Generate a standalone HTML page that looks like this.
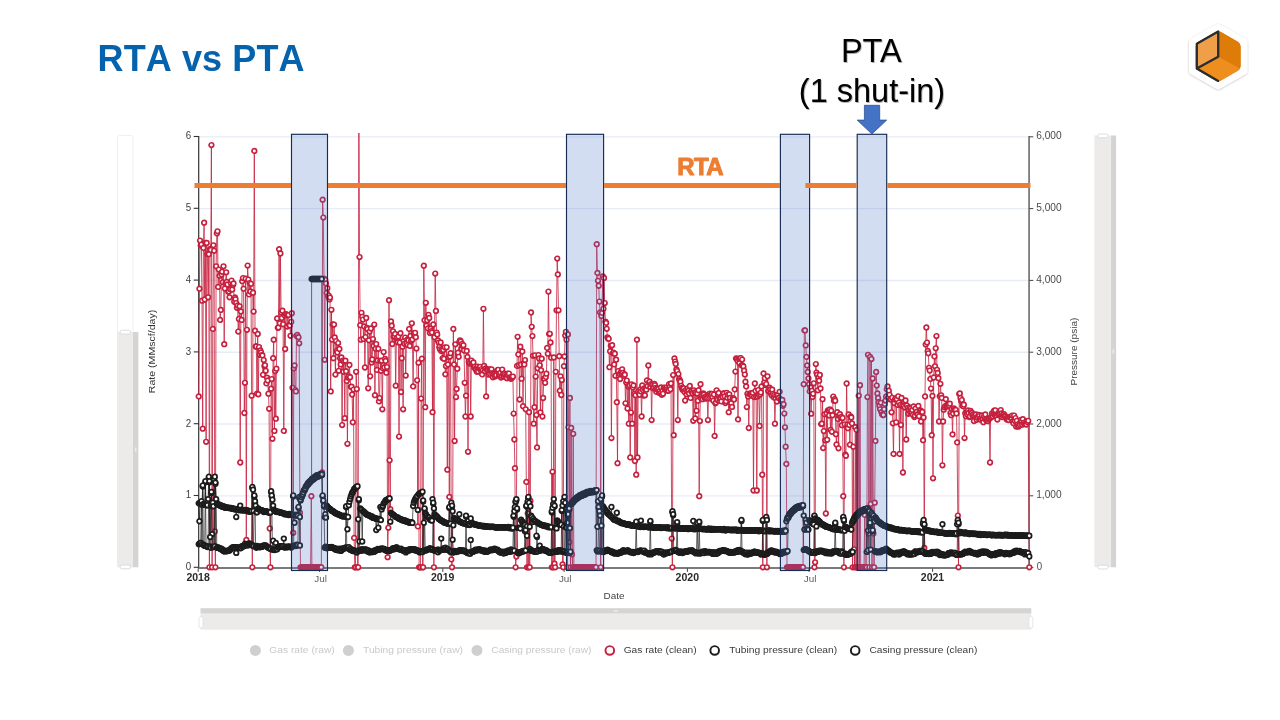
<!DOCTYPE html>
<html lang="en"><head><meta charset="utf-8"><title>RTA vs PTA</title>
<style>
html,body{margin:0;padding:0;background:#fff;}
body{width:1280px;height:720px;overflow:hidden;position:relative;font-family:"Liberation Sans", sans-serif;}
svg{position:absolute;left:0;top:0;display:block;}
text{font-family:"Liberation Sans", sans-serif;}
</style></head><body>
<svg width="1280" height="720" viewBox="0 0 1280 720">
<defs>
<marker id="mr" markerUnits="userSpaceOnUse" markerWidth="10" markerHeight="10" refX="5" refY="5" viewBox="0 0 10 10"><circle cx="5" cy="5" r="2.32" fill="#fff" stroke="#c5203e" stroke-width="1.65"/></marker>
<marker id="mk" markerUnits="userSpaceOnUse" markerWidth="10" markerHeight="10" refX="5" refY="5" viewBox="0 0 10 10"><circle cx="5" cy="5" r="2.3" fill="#fff" stroke="#1c1c1c" stroke-width="1.75"/></marker>
<filter id="tsh" x="-10%" y="-10%" width="130%" height="140%"><feDropShadow dx="0.8" dy="1.0" stdDeviation="0.75" flood-color="#000" flood-opacity="0.33"/></filter>
<filter id="lsh" x="-20%" y="-20%" width="140%" height="140%"><feDropShadow dx="0" dy="0.6" stdDeviation="1.1" flood-color="#000" flood-opacity="0.28"/></filter>
<clipPath id="plot"><rect x="190" y="133" width="845" height="440"/></clipPath>
</defs>
<rect x="0" y="0" width="1280" height="720" fill="#fff"/>
<g opacity="0.9999">
<text x="97.6" y="70.8" font-size="36" font-weight="700" fill="#0563ae" style="font-kerning:none" letter-spacing="0.1">RTA vs PTA</text>
<polygon points="1218.2,27.1 1244.2,41.8 1244.2,71.2 1218.2,85.9 1192.2,71.2 1192.2,41.8" fill="#fff" stroke="#fff" stroke-width="6.4" stroke-linejoin="round" filter="url(#lsh)"/>
<clipPath id="cube"><path d="M1215.43,32.00 Q1218.20,30.40 1220.97,32.00 L1237.83,41.70 Q1240.60,43.30 1240.60,46.50 L1240.60,65.90 Q1240.60,69.10 1237.83,70.70 L1220.97,80.40 Q1218.20,82.00 1215.43,80.40 L1198.57,70.70 Q1195.80,69.10 1195.80,65.90 L1195.80,46.50 Q1195.80,43.30 1198.57,41.70 Z"/></clipPath>
<g clip-path="url(#cube)">
<rect x="1190" y="25" width="56" height="62" fill="#e6851a"/>
<polygon points="1218.2,30.4 1243.6,40.3 1243.6,72.1 1240.6,69.1 1218.2,56.8" fill="#de7c0a"/>
<polygon points="1218.2,56.8 1240.6,69.1 1243.6,72.1 1218.2,85.0 1192.8,72.1 1195.8,69.1" fill="#ee8e1f"/>
<polygon points="1218.2,30.4 1218.2,56.8 1195.8,69.1 1192.8,69.1 1192.8,40.3 1218.2,27.4" fill="#ee9f48"/>
</g>
<path d="M1218.2,80.9 L1196.8,68.6 L1196.8,43.8 L1218.2,31.5 L1218.2,56.8 L1196.8,68.6" fill="none" stroke="#262c33" stroke-width="2.3" stroke-linejoin="round" stroke-linecap="round"/>
<rect x="117.5" y="135.5" width="15.5" height="431" rx="2.5" fill="#fff" stroke="#efefef" stroke-width="1"/>
<rect x="133" y="332" width="5.4" height="235.3" fill="#d4d4d4"/>
<rect x="117.2" y="332" width="15.8" height="235.3" fill="#ecebea"/>
<rect x="120" y="330.2" width="10.5" height="3.8" rx="1.9" fill="#fff" stroke="#d6d6d6" stroke-width="0.8"/>
<rect x="120" y="565.0" width="10.5" height="3.8" rx="1.9" fill="#fff" stroke="#d2d2d2" stroke-width="0.8"/>
<rect x="135" y="447.5" width="1.4" height="4" fill="#eeeeee"/>
<rect x="1110.7" y="135.5" width="5.4" height="431.8" fill="#d4d4d4"/>
<rect x="1094.3" y="135.5" width="16.4" height="431.5" fill="#ecebea"/>
<rect x="1097.7" y="134.0" width="10.5" height="3.8" rx="1.9" fill="#fff" stroke="#d6d6d6" stroke-width="0.8"/>
<rect x="1097.7" y="565.2" width="10.5" height="3.8" rx="1.9" fill="#fff" stroke="#d6d6d6" stroke-width="0.8"/>
<rect x="1112.6" y="349.5" width="1.4" height="4" fill="#eeeeee"/>
<rect x="200.5" y="608.2" width="830.8" height="5.5" fill="#d4d4d4"/>
<rect x="200.5" y="613.7" width="830.8" height="16" fill="#ecebea"/>
<rect x="199" y="616.5" width="4" height="11.5" rx="2" fill="#fff" stroke="#dcdcdc" stroke-width="0.7"/>
<rect x="1028.9" y="616.5" width="4" height="11.5" rx="2" fill="#fff" stroke="#dcdcdc" stroke-width="0.7"/>
<rect x="613.5" y="610.3" width="4.5" height="1.4" fill="#eeeeee"/>
<line x1="198.7" y1="495.85" x2="1029.3" y2="495.85" stroke="#e8ecf7" stroke-width="1.4"/>
<line x1="198.7" y1="424.05" x2="1029.3" y2="424.05" stroke="#e8ecf7" stroke-width="1.4"/>
<line x1="198.7" y1="352.25" x2="1029.3" y2="352.25" stroke="#e8ecf7" stroke-width="1.4"/>
<line x1="198.7" y1="280.45" x2="1029.3" y2="280.45" stroke="#e8ecf7" stroke-width="1.4"/>
<line x1="198.7" y1="208.65" x2="1029.3" y2="208.65" stroke="#e8ecf7" stroke-width="1.4"/>
<line x1="198.7" y1="136.85" x2="1029.3" y2="136.85" stroke="#e8ecf7" stroke-width="1.4"/>
<line x1="198.7" y1="136.0" x2="198.7" y2="567.8" stroke="#333" stroke-width="1.2"/>
<line x1="1029.1" y1="136.0" x2="1029.1" y2="568.8" stroke="#7b7b7b" stroke-width="1.8"/>
<line x1="198.2" y1="568.0" x2="1030.0" y2="568.0" stroke="#7b7b7b" stroke-width="1.8"/>
<line x1="193.7" y1="567.30" x2="198.7" y2="567.30" stroke="#333" stroke-width="1.1"/>
<line x1="1029.3" y1="567.60" x2="1033.3" y2="567.60" stroke="#444" stroke-width="1"/>
<text x="185.7" y="570.2" font-size="10.5" fill="#3c3c3c" textLength="5.4" lengthAdjust="spacingAndGlyphs">0</text>
<text x="1036.7" y="570.2" font-size="10.5" fill="#4a4a4a" textLength="5.4" lengthAdjust="spacingAndGlyphs">0</text>
<line x1="193.7" y1="495.50" x2="198.7" y2="495.50" stroke="#333" stroke-width="1.1"/>
<line x1="1029.3" y1="495.80" x2="1033.3" y2="495.80" stroke="#444" stroke-width="1"/>
<text x="185.7" y="498.4" font-size="10.5" fill="#3c3c3c" textLength="5.4" lengthAdjust="spacingAndGlyphs">1</text>
<text x="1036.2" y="498.4" font-size="10.5" fill="#4a4a4a" textLength="25.4" lengthAdjust="spacingAndGlyphs">1,000</text>
<line x1="193.7" y1="423.70" x2="198.7" y2="423.70" stroke="#333" stroke-width="1.1"/>
<line x1="1029.3" y1="424.00" x2="1033.3" y2="424.00" stroke="#444" stroke-width="1"/>
<text x="185.7" y="426.6" font-size="10.5" fill="#3c3c3c" textLength="5.4" lengthAdjust="spacingAndGlyphs">2</text>
<text x="1036.2" y="426.6" font-size="10.5" fill="#4a4a4a" textLength="25.4" lengthAdjust="spacingAndGlyphs">2,000</text>
<line x1="193.7" y1="351.90" x2="198.7" y2="351.90" stroke="#333" stroke-width="1.1"/>
<line x1="1029.3" y1="352.20" x2="1033.3" y2="352.20" stroke="#444" stroke-width="1"/>
<text x="185.7" y="354.8" font-size="10.5" fill="#3c3c3c" textLength="5.4" lengthAdjust="spacingAndGlyphs">3</text>
<text x="1036.2" y="354.8" font-size="10.5" fill="#4a4a4a" textLength="25.4" lengthAdjust="spacingAndGlyphs">3,000</text>
<line x1="193.7" y1="280.10" x2="198.7" y2="280.10" stroke="#333" stroke-width="1.1"/>
<line x1="1029.3" y1="280.40" x2="1033.3" y2="280.40" stroke="#444" stroke-width="1"/>
<text x="185.7" y="283.0" font-size="10.5" fill="#3c3c3c" textLength="5.4" lengthAdjust="spacingAndGlyphs">4</text>
<text x="1036.2" y="283.0" font-size="10.5" fill="#4a4a4a" textLength="25.4" lengthAdjust="spacingAndGlyphs">4,000</text>
<line x1="193.7" y1="208.30" x2="198.7" y2="208.30" stroke="#333" stroke-width="1.1"/>
<line x1="1029.3" y1="208.60" x2="1033.3" y2="208.60" stroke="#444" stroke-width="1"/>
<text x="185.7" y="211.2" font-size="10.5" fill="#3c3c3c" textLength="5.4" lengthAdjust="spacingAndGlyphs">5</text>
<text x="1036.2" y="211.2" font-size="10.5" fill="#4a4a4a" textLength="25.4" lengthAdjust="spacingAndGlyphs">5,000</text>
<line x1="193.7" y1="136.50" x2="198.7" y2="136.50" stroke="#333" stroke-width="1.1"/>
<line x1="1029.3" y1="136.80" x2="1033.3" y2="136.80" stroke="#444" stroke-width="1"/>
<text x="185.7" y="139.4" font-size="10.5" fill="#3c3c3c" textLength="5.4" lengthAdjust="spacingAndGlyphs">6</text>
<text x="1036.2" y="139.4" font-size="10.5" fill="#4a4a4a" textLength="25.4" lengthAdjust="spacingAndGlyphs">6,000</text>
<line x1="198.2" y1="568.3" x2="198.2" y2="571.9" stroke="#444" stroke-width="1"/>
<text x="186.4" y="581.4" font-size="10.2" font-weight="700" fill="#2a2a2a" textLength="23.4" lengthAdjust="spacingAndGlyphs">2018</text>
<line x1="319.5" y1="568.3" x2="319.5" y2="571.9" stroke="#444" stroke-width="1"/>
<text x="320.6" y="581.5" font-size="9.9" fill="#5c5e64" text-anchor="middle">Jul</text>
<line x1="442.8" y1="568.3" x2="442.8" y2="571.9" stroke="#444" stroke-width="1"/>
<text x="431.0" y="581.4" font-size="10.2" font-weight="700" fill="#2a2a2a" textLength="23.4" lengthAdjust="spacingAndGlyphs">2019</text>
<line x1="564.1" y1="568.3" x2="564.1" y2="571.9" stroke="#444" stroke-width="1"/>
<text x="565.2" y="581.5" font-size="9.9" fill="#5c5e64" text-anchor="middle">Jul</text>
<line x1="687.4" y1="568.3" x2="687.4" y2="571.9" stroke="#444" stroke-width="1"/>
<text x="675.6" y="581.4" font-size="10.2" font-weight="700" fill="#2a2a2a" textLength="23.4" lengthAdjust="spacingAndGlyphs">2020</text>
<line x1="809.0" y1="568.3" x2="809.0" y2="571.9" stroke="#444" stroke-width="1"/>
<text x="810.1" y="581.5" font-size="9.9" fill="#5c5e64" text-anchor="middle">Jul</text>
<line x1="932.6" y1="568.3" x2="932.6" y2="571.9" stroke="#444" stroke-width="1"/>
<text x="920.8" y="581.4" font-size="10.2" font-weight="700" fill="#2a2a2a" textLength="23.4" lengthAdjust="spacingAndGlyphs">2021</text>
<text x="603.6" y="599.4" font-size="9.9" fill="#444" textLength="21" lengthAdjust="spacingAndGlyphs">Date</text>
<text transform="translate(155.3,393.2) rotate(-90)" font-size="9.9" fill="#333" textLength="83.4" lengthAdjust="spacingAndGlyphs">Rate (MMscf/day)</text>
<text transform="translate(1077.3,385.5) rotate(-90)" font-size="9.9" fill="#444" textLength="67.8" lengthAdjust="spacingAndGlyphs">Pressure (psia)</text>
<g clip-path="url(#plot)">
<polyline points="198.7,396.4 199.4,288.7 200.0,240.6 200.7,245.6 201.4,244.6 202.0,300.7 202.7,428.7 203.4,247.9 204.1,222.7 204.7,299.5 205.4,242.9 206.1,441.8 206.7,243.0 207.4,254.1 208.1,297.3 208.8,254.2 209.4,567.3 210.1,248.9 210.8,249.9 211.4,145.1 212.1,567.3 212.8,328.9 213.4,245.3 214.1,250.8 214.8,531.4 215.4,567.3 216.1,266.3 216.8,233.4 217.5,231.3 218.1,286.9 218.8,269.6 219.5,275.8 220.1,319.9 220.8,309.9 221.5,274.4 222.1,271.8 222.8,282.3 223.5,266.3 224.2,344.2 224.8,288.5 225.5,282.9 226.2,272.3 226.8,282.0 227.5,284.4 228.2,291.7 228.8,291.5 229.5,297.3 230.2,289.2 230.9,283.1 231.5,280.6 232.2,289.5 232.9,285.0 233.5,283.5 234.2,301.7 234.9,297.5 235.5,299.2 236.2,303.1 236.9,307.8 237.6,305.5 238.2,331.6 238.9,319.0 239.6,306.3 240.2,462.5 240.9,311.4 241.6,319.9 242.2,281.2 242.9,278.1 243.6,288.7 244.3,413.0 244.9,382.8 245.6,278.7 246.3,540.0 246.9,329.8 247.6,265.6 248.3,279.6 248.9,294.4 249.6,283.1 250.3,291.5 251.0,283.8 251.6,395.7 252.3,567.3 253.0,292.7 253.6,311.6 254.3,150.9 255.0,330.7 255.6,346.5 256.3,346.5 257.0,393.6 257.7,334.0 258.3,394.3 259.0,347.1 259.7,354.8 260.3,350.5 261.0,352.4 261.7,355.1 262.4,355.4 263.0,374.8 263.7,360.1 264.4,366.0 265.0,365.3 265.7,370.8 266.4,383.4 267.0,377.7 267.7,380.5 268.4,393.7 269.1,408.8 269.7,528.5 270.4,567.3 271.1,388.7 271.7,379.1 272.4,438.8 273.1,358.2 273.7,339.7 274.4,430.9 275.1,371.1 275.8,418.7 276.4,368.7 277.1,318.5 277.8,327.8 278.4,327.6 279.1,249.2 279.8,323.3 280.4,253.5 281.1,312.4 281.8,318.1 282.4,310.7 283.1,324.3 283.8,430.9 284.5,315.3 285.1,349.0 285.8,314.1 286.5,314.6 287.1,326.5 287.8,315.3 288.5,315.1 289.1,325.1 289.8,325.4 290.5,335.8 291.2,321.8 291.8,313.2 292.5,387.8 293.2,532.8 293.8,368.3 294.5,365.5 295.2,390.1 295.9,391.4 296.5,335.8 297.2,335.0 297.9,337.2 298.5,337.3 299.2,343.3 299.9,512.7 300.5,567.3 301.2,567.3 301.9,567.3 302.6,567.3 303.2,567.3 303.9,567.3 304.6,567.3 305.2,567.3 305.9,567.3 306.6,567.3 307.2,567.3 307.9,567.3 308.6,567.3 309.2,567.3 309.9,567.3 310.6,567.3 311.3,496.2 311.9,567.3 312.6,567.3 313.3,567.3 313.9,567.3 314.6,567.3 315.3,567.3 315.9,567.3 316.6,567.3 317.3,567.3 318.0,567.3 318.6,567.3 319.3,567.3 320.0,567.3 320.6,567.3 321.3,567.3 322.0,472.5 322.6,199.7 323.3,217.6 324.0,278.7 324.7,359.8 325.3,280.1 326.0,283.4 326.7,293.0 327.3,288.2 328.0,296.4 328.7,295.7 329.4,299.4 330.0,297.6 330.7,391.4 331.4,309.8 332.0,339.6 332.7,324.5 333.4,358.2 334.0,324.6 334.7,337.5 335.4,374.6 336.0,341.1 336.7,351.0 337.4,352.6 338.1,343.1 338.7,370.8 339.4,349.0 340.1,358.3 340.7,364.4 341.4,357.5 342.1,425.1 342.8,360.7 343.4,371.8 344.1,361.4 344.8,418.2 345.4,360.7 346.1,371.2 346.8,380.9 347.4,443.8 348.1,377.7 348.8,376.3 349.4,365.0 350.1,377.2 350.8,386.8 351.5,386.7 352.1,394.5 352.8,422.3 353.5,389.6 354.1,537.9 354.8,567.3 355.5,567.3 356.1,371.8 356.8,389.1 357.5,567.3 358.2,567.3 358.8,50.3 359.5,257.1 360.2,325.2 360.8,339.7 361.5,312.8 362.2,316.8 362.9,319.6 363.5,338.9 364.2,326.4 364.9,367.5 365.5,337.1 366.2,317.9 366.9,327.8 367.5,329.1 368.2,388.3 368.9,340.3 369.6,331.6 370.2,376.3 370.9,328.5 371.6,362.5 372.2,359.5 372.9,339.1 373.6,345.9 374.2,324.6 374.9,395.2 375.6,348.7 376.2,344.1 376.9,369.9 377.6,360.4 378.3,348.8 378.9,401.4 379.6,398.1 380.3,360.8 380.9,370.8 381.6,360.7 382.3,409.3 382.9,368.4 383.6,352.1 384.3,367.4 385.0,358.9 385.6,360.9 386.3,372.7 387.0,367.1 387.6,557.2 388.3,527.8 389.0,300.2 389.6,460.3 390.3,509.1 391.0,321.4 391.7,325.7 392.3,344.0 393.0,331.3 393.7,336.7 394.3,336.2 395.0,333.9 395.7,385.7 396.4,339.6 397.0,337.6 397.7,342.3 398.4,336.6 399.0,436.6 399.7,342.6 400.4,333.2 401.0,392.0 401.7,358.2 402.4,346.7 403.1,409.3 403.7,340.9 404.4,343.8 405.1,337.6 405.7,375.6 406.4,343.2 407.1,339.7 407.7,345.1 408.4,340.2 409.1,328.9 409.8,345.9 410.4,336.0 411.1,340.7 411.8,323.3 412.4,339.6 413.1,386.4 413.8,333.2 414.4,336.0 415.1,332.8 415.8,337.2 416.4,348.6 417.1,380.3 417.8,526.4 418.5,362.7 419.1,567.3 419.8,567.3 420.5,567.3 421.1,398.6 421.8,358.7 422.5,567.3 423.1,567.3 423.8,265.7 424.5,320.2 425.2,407.2 425.8,302.8 426.5,325.8 427.2,320.2 427.8,328.4 428.5,314.8 429.2,318.0 429.9,333.1 430.5,328.8 431.2,331.1 431.9,332.5 432.5,412.2 433.2,324.5 433.9,567.3 434.5,337.2 435.2,273.6 435.9,311.0 436.6,332.6 437.2,334.6 437.9,340.5 438.6,342.6 439.2,347.1 439.9,349.3 440.6,342.5 441.2,351.0 441.9,349.8 442.6,358.1 443.2,350.0 443.9,358.8 444.6,347.3 445.3,374.3 445.9,366.0 446.6,347.3 447.3,469.7 447.9,364.4 448.6,357.2 449.3,496.9 450.0,356.5 450.6,353.2 451.3,559.4 452.0,567.3 452.6,552.9 453.3,328.9 454.0,364.4 454.6,441.0 455.3,344.3 456.0,397.1 456.6,388.9 457.3,368.7 458.0,352.7 458.7,356.8 459.3,341.9 460.0,340.3 460.7,341.5 461.3,348.6 462.0,343.9 462.7,346.2 463.4,345.3 464.0,350.6 464.7,382.8 465.4,416.5 466.0,395.7 466.7,350.9 467.4,356.9 468.0,451.8 468.7,361.7 469.4,363.6 470.1,362.4 470.7,416.5 471.4,360.6 472.1,363.8 472.7,362.9 473.4,362.5 474.1,367.5 474.7,366.8 475.4,368.8 476.1,369.7 476.8,371.7 477.4,366.6 478.1,371.5 478.8,368.1 479.4,367.9 480.1,366.8 480.8,370.6 481.4,369.1 482.1,374.4 482.8,370.3 483.4,308.8 484.1,365.9 484.8,371.0 485.5,368.5 486.1,396.4 486.8,369.2 487.5,369.8 488.1,369.9 488.8,374.7 489.5,369.3 490.2,373.9 490.8,369.7 491.5,369.3 492.2,373.5 492.8,377.3 493.5,374.0 494.2,374.2 494.8,376.6 495.5,375.1 496.2,375.2 496.9,371.4 497.5,370.1 498.2,369.8 498.9,375.9 499.5,374.9 500.2,372.9 500.9,377.6 501.5,375.9 502.2,369.6 502.9,374.2 503.6,376.5 504.2,373.7 504.9,375.1 505.6,376.7 506.2,377.5 506.9,378.3 507.6,373.7 508.2,375.3 508.9,373.6 509.6,377.9 510.2,377.3 510.9,378.8 511.6,377.9 512.3,377.2 512.9,376.6 513.6,413.6 514.3,439.5 514.9,468.2 515.6,567.3 516.3,556.5 517.0,365.9 517.6,336.8 518.3,354.4 519.0,365.2 519.6,399.5 520.3,346.7 521.0,364.4 521.6,378.7 522.3,351.4 523.0,406.2 523.7,363.5 524.3,364.4 525.0,360.1 525.7,409.3 526.3,481.9 527.0,567.3 527.7,513.4 528.3,567.3 529.0,412.2 529.7,567.3 530.4,501.0 531.0,312.4 531.7,326.8 532.4,336.1 533.0,355.8 533.7,423.7 534.4,407.2 535.0,355.3 535.7,376.6 536.4,415.1 537.0,447.4 537.7,368.3 538.4,355.1 539.1,358.5 539.7,365.3 540.4,412.5 541.1,370.3 541.7,358.7 542.4,416.6 543.1,398.0 543.8,378.8 544.4,378.8 545.1,382.8 545.8,376.9 546.4,373.7 547.1,347.9 547.8,353.7 548.4,291.6 549.1,333.9 549.8,333.8 550.5,342.5 551.1,357.7 551.8,567.3 552.5,471.8 553.1,567.3 553.8,357.4 554.5,563.7 555.1,567.3 555.8,371.8 556.5,310.3 557.2,258.6 557.8,274.4 558.5,310.3 559.2,356.2 559.8,390.7 560.5,376.3 561.2,395.0 561.8,380.1 562.5,564.4 563.2,567.3 563.9,366.2 564.5,356.5 565.2,335.5 565.9,331.8 566.5,339.7 567.2,567.3 567.9,334.5 568.5,427.3 569.2,542.2 569.9,397.9 570.5,567.3 571.2,428.0 571.9,554.4 572.6,567.3 573.2,433.8 573.9,567.3 574.6,567.3 575.2,567.3 575.9,567.3 576.6,567.3 577.2,567.3 577.9,567.3 578.6,567.3 579.3,567.3 579.9,567.3 580.6,567.3 581.3,567.3 581.9,567.3 582.6,567.3 583.3,567.3 584.0,567.3 584.6,567.3 585.3,567.3 586.0,567.3 586.6,567.3 587.3,567.3 588.0,567.3 588.6,567.3 589.3,567.3 590.0,567.3 590.7,567.3 591.3,567.3 592.0,567.3 592.7,567.3 593.3,567.3 594.0,567.3 594.7,567.3 595.3,567.3 596.0,567.3 596.7,244.2 597.4,272.9 598.0,280.8 598.7,285.8 599.4,301.6 600.0,312.4 600.7,567.3 601.4,316.0 602.0,312.9 602.7,276.5 603.4,308.7 604.0,277.9 604.7,303.1 605.4,321.7 606.1,322.9 606.7,328.8 607.4,337.3 608.1,338.7 608.7,338.8 609.4,367.2 610.1,351.2 610.8,345.8 611.4,438.1 612.1,345.2 612.8,353.1 613.4,352.7 614.1,364.4 614.8,353.7 615.4,375.8 616.1,359.7 616.8,402.2 617.5,463.2 618.1,371.1 618.8,376.1 619.5,374.1 620.1,379.1 620.8,372.2 621.5,373.5 622.1,369.3 622.8,372.8 623.5,375.9 624.2,374.1 624.8,374.7 625.5,403.3 626.2,382.6 626.8,380.6 627.5,408.6 628.2,386.5 628.8,423.7 629.5,385.2 630.2,457.4 630.9,412.6 631.5,384.3 632.2,423.7 632.9,387.5 633.5,385.4 634.2,393.9 634.9,461.0 635.5,395.2 636.2,474.7 636.9,339.7 637.5,457.4 638.2,391.5 638.9,393.6 639.6,394.8 640.2,389.5 640.9,391.4 641.6,416.5 642.2,385.5 642.9,390.1 643.6,395.6 644.2,388.3 644.9,395.3 645.6,389.0 646.3,389.7 646.9,380.5 647.6,386.1 648.3,365.5 648.9,382.6 649.6,381.7 650.3,387.0 651.0,384.1 651.6,420.1 652.3,384.4 653.0,388.4 653.6,387.4 654.3,384.0 655.0,385.3 655.6,387.9 656.3,391.9 657.0,388.4 657.7,390.1 658.3,388.9 659.0,392.9 659.7,391.0 660.3,393.1 661.0,387.5 661.7,394.8 662.3,391.2 663.0,393.8 663.7,387.8 664.4,387.7 665.0,389.3 665.7,388.9 666.4,387.6 667.0,389.3 667.7,390.8 668.4,390.8 669.0,384.2 669.7,387.0 670.4,389.2 671.0,383.5 671.7,538.6 672.4,567.3 673.1,375.1 673.7,435.2 674.4,358.4 675.1,361.6 675.7,363.9 676.4,369.5 677.1,371.1 677.8,420.1 678.4,374.1 679.1,379.0 679.8,380.4 680.4,381.7 681.1,385.8 681.8,387.9 682.4,389.7 683.1,388.3 683.8,388.3 684.5,392.0 685.1,400.5 685.8,390.0 686.5,394.2 687.1,391.2 687.8,388.4 688.5,390.7 689.1,393.4 689.8,385.9 690.5,397.9 691.2,391.2 691.8,391.6 692.5,393.3 693.2,420.8 693.8,390.3 694.5,392.4 695.2,418.4 695.8,393.0 696.5,410.8 697.2,393.6 697.9,400.7 698.5,390.2 699.2,496.2 699.9,421.1 700.5,384.2 701.2,398.6 701.9,394.7 702.5,399.2 703.2,393.5 703.9,394.5 704.5,398.0 705.2,396.7 705.9,398.6 706.6,397.5 707.2,398.3 707.9,420.1 708.6,394.3 709.2,398.4 709.9,393.6 710.6,395.0 711.2,398.6 711.9,393.9 712.6,397.2 713.3,400.7 713.9,394.6 714.6,435.9 715.3,403.3 715.9,402.5 716.6,390.3 717.3,400.1 718.0,394.3 718.6,392.9 719.3,400.9 720.0,398.5 720.6,397.9 721.3,401.4 722.0,396.1 722.6,396.9 723.3,393.5 724.0,393.5 724.7,396.6 725.3,403.0 726.0,401.2 726.7,392.8 727.3,397.8 728.0,394.7 728.7,412.2 729.3,394.3 730.0,397.9 730.7,401.7 731.3,403.2 732.0,406.9 732.7,398.5 733.4,398.3 734.0,399.4 734.7,389.4 735.4,371.6 736.0,358.4 736.7,358.9 737.4,360.6 738.0,419.4 738.7,358.7 739.4,363.2 740.1,358.4 740.7,358.1 741.4,365.2 742.1,359.6 742.7,365.6 743.4,366.6 744.1,370.7 744.8,374.6 745.4,381.7 746.1,386.4 746.8,407.1 747.4,393.8 748.1,396.6 748.8,428.0 749.4,394.2 750.1,393.4 750.8,393.7 751.5,393.5 752.1,395.7 752.8,392.9 753.5,490.5 754.1,397.0 754.8,383.5 755.5,390.9 756.1,396.7 756.8,490.5 757.5,396.4 758.2,390.1 758.8,395.0 759.5,425.9 760.2,394.2 760.8,392.4 761.5,386.5 762.2,474.7 762.8,567.3 763.5,373.4 764.2,382.5 764.8,378.2 765.5,385.0 766.2,384.1 766.9,567.3 767.5,376.3 768.2,391.1 768.9,391.0 769.5,387.7 770.2,389.5 770.9,393.2 771.5,395.2 772.2,389.7 772.9,393.8 773.6,397.4 774.2,395.0 774.9,423.7 775.6,398.2 776.2,395.4 776.9,401.6 777.6,395.6 778.2,397.9 778.9,398.0 779.6,391.8 780.3,399.4 780.9,400.0 781.6,401.3 782.3,400.0 782.9,405.8 783.6,404.3 784.3,413.6 785.0,427.3 785.6,446.7 786.3,463.9 787.0,567.3 787.6,567.3 788.3,567.3 789.0,567.3 789.6,567.3 790.3,567.3 791.0,567.3 791.7,567.3 792.3,567.3 793.0,567.3 793.7,567.3 794.3,567.3 795.0,567.3 795.7,567.3 796.3,567.3 797.0,567.3 797.7,567.3 798.4,567.3 799.0,567.3 799.7,567.3 800.4,567.3 801.0,567.3 801.7,567.3 802.4,567.3 803.0,567.3 803.7,384.2 804.4,330.4 805.0,330.4 805.7,345.4 806.4,356.9 807.1,365.5 807.7,372.0 808.4,378.5 809.1,384.2 809.7,391.4 810.4,387.5 811.1,413.7 811.8,390.8 812.4,397.0 813.1,393.8 813.8,383.3 814.4,567.3 815.1,562.3 815.8,364.1 816.4,372.6 817.1,374.7 817.8,390.3 818.5,377.5 819.1,380.7 819.8,375.0 820.5,388.4 821.1,424.1 821.8,423.7 822.5,399.2 823.1,448.1 823.8,431.1 824.5,414.3 825.2,440.3 825.8,513.5 826.5,413.3 827.2,439.8 827.8,410.5 828.5,410.3 829.2,415.5 829.8,409.4 830.5,429.9 831.2,410.8 831.9,431.8 832.5,415.3 833.2,396.6 833.9,400.7 834.5,399.2 835.2,400.8 835.9,434.2 836.5,444.5 837.2,412.2 837.9,418.9 838.5,448.3 839.2,415.6 839.9,414.2 840.6,417.7 841.2,416.9 841.9,425.2 842.6,417.9 843.2,496.2 843.9,567.3 844.6,424.3 845.2,454.6 845.9,455.8 846.6,383.5 847.3,424.7 847.9,428.2 848.6,414.4 849.3,425.1 849.9,444.7 850.6,416.5 851.3,417.5 852.0,423.4 852.6,567.3 853.3,446.7 854.0,549.3 854.6,567.3 855.3,427.2 856.0,567.3 856.6,429.9 857.3,567.3 858.0,567.3 858.7,395.7 859.3,567.3 860.0,385.2 860.7,567.3 861.3,567.3 862.0,567.3 862.7,567.3 863.3,567.3 864.0,567.3 864.7,514.9 865.4,567.3 866.0,567.3 866.7,567.3 867.4,397.1 868.0,354.8 868.7,533.6 869.4,567.3 870.0,357.0 870.7,504.1 871.4,359.1 872.0,567.3 872.7,378.5 873.4,533.6 874.1,567.3 874.7,502.7 875.4,440.9 876.1,372.0 876.7,385.6 877.4,393.5 878.1,397.9 878.8,402.2 879.4,405.8 880.1,409.3 880.8,402.8 881.4,412.2 882.1,414.4 882.8,415.1 883.4,415.1 884.1,409.3 884.8,403.9 885.5,400.5 886.1,396.5 886.8,389.2 887.5,386.5 888.1,397.2 888.8,390.8 889.5,394.8 890.1,399.4 890.8,399.2 891.5,412.3 892.2,397.8 892.8,423.3 893.5,453.9 894.2,403.0 894.8,399.6 895.5,398.4 896.2,422.3 896.8,399.2 897.5,404.9 898.2,396.3 898.9,402.6 899.5,453.9 900.2,405.0 900.9,425.1 901.5,397.9 902.2,405.8 902.9,472.5 903.5,406.2 904.2,401.7 904.9,407.6 905.5,400.5 906.2,439.5 906.9,405.6 907.6,407.9 908.2,413.8 908.9,409.7 909.6,407.5 910.2,412.7 910.9,408.2 911.6,412.4 912.2,410.0 912.9,414.9 913.6,406.5 914.3,417.1 914.9,415.7 915.6,408.5 916.3,412.7 916.9,411.6 917.6,414.7 918.3,405.9 919.0,416.3 919.6,411.0 920.3,410.4 921.0,421.5 921.6,411.4 922.3,412.0 923.0,440.2 923.6,417.6 924.3,547.9 925.0,396.4 925.7,344.5 926.3,327.5 927.0,342.6 927.7,350.9 928.3,353.3 929.0,367.8 929.7,370.6 930.3,378.9 931.0,388.6 931.7,435.2 932.4,395.9 933.0,478.3 933.7,377.5 934.4,356.4 935.0,366.3 935.7,348.3 936.4,336.1 937.0,369.8 937.7,372.9 938.4,378.2 939.0,421.5 939.7,396.2 940.4,383.8 941.1,395.3 941.7,397.9 942.4,465.3 943.1,421.5 943.7,409.7 944.4,407.4 945.1,406.1 945.8,399.2 946.4,405.9 947.1,405.0 947.8,406.5 948.4,404.8 949.1,405.7 949.8,403.7 950.4,412.9 951.1,415.2 951.8,408.9 952.5,434.4 953.1,413.5 953.8,408.3 954.5,409.4 955.1,410.7 955.8,410.1 956.5,413.5 957.1,442.4 957.8,515.6 958.5,567.3 959.2,394.0 959.8,393.5 960.5,398.1 961.2,401.3 961.8,400.1 962.5,405.7 963.2,406.4 963.8,404.7 964.5,438.1 965.2,413.2 965.9,416.3 966.5,411.9 967.2,414.5 967.9,410.5 968.5,412.9 969.2,417.1 969.9,416.6 970.5,410.9 971.2,412.7 971.9,412.9 972.5,415.7 973.2,414.3 973.9,421.0 974.6,415.1 975.2,415.9 975.9,414.4 976.6,419.8 977.2,417.3 977.9,417.8 978.6,414.8 979.2,416.1 979.9,418.6 980.6,419.7 981.3,417.6 981.9,415.5 982.6,419.3 983.3,422.2 983.9,416.1 984.6,418.8 985.3,414.4 986.0,419.1 986.6,420.9 987.3,419.0 988.0,421.2 988.6,419.5 989.3,418.3 990.0,462.5 990.6,417.7 991.3,417.0 992.0,413.3 992.7,416.2 993.3,413.9 994.0,410.7 994.7,415.0 995.3,410.3 996.0,415.1 996.7,416.0 997.3,419.5 998.0,414.5 998.7,412.7 999.4,413.8 1000.0,413.8 1000.7,410.1 1001.4,413.4 1002.0,417.1 1002.7,415.2 1003.4,414.1 1004.0,414.3 1004.7,415.7 1005.4,416.4 1006.0,418.1 1006.7,419.5 1007.4,418.2 1008.1,418.2 1008.7,420.0 1009.4,417.1 1010.1,417.5 1010.7,416.6 1011.4,418.1 1012.1,415.6 1012.8,421.4 1013.4,423.2 1014.1,415.6 1014.8,421.0 1015.4,418.1 1016.1,426.5 1016.8,420.8 1017.4,424.6 1018.1,426.7 1018.8,426.0 1019.5,423.4 1020.1,425.0 1020.8,420.0 1021.5,421.6 1022.1,424.7 1022.8,419.2 1023.5,423.2 1024.1,422.6 1024.8,424.1 1025.5,423.8 1026.2,424.5 1026.8,421.1 1027.5,422.3 1028.2,420.8 1029.3,567.3" fill="none" stroke="#c5203e" stroke-opacity="0.8" stroke-width="1" stroke-linejoin="round" marker-start="url(#mr)" marker-mid="url(#mr)" marker-end="url(#mr)"/>
<polyline points="198.7,544.3 199.4,543.6 200.0,543.0 200.7,543.0 201.4,502.3 202.0,544.1 202.7,486.5 203.4,544.8 204.1,545.7 204.7,545.6 205.4,482.2 206.1,545.9 206.7,546.4 207.4,547.0 208.1,546.6 208.8,477.9 209.4,482.2 210.1,546.4 210.8,547.8 211.4,493.0 212.1,534.3 212.8,547.0 213.4,547.1 214.1,480.8 214.8,546.2 215.4,483.7 216.1,500.2 216.8,547.7 217.5,547.4 218.1,547.5 218.8,548.0 219.5,548.1 220.1,549.0 220.8,548.4 221.5,549.4 222.1,549.2 222.8,550.4 223.5,551.0 224.2,551.5 224.8,550.9 225.5,550.8 226.2,551.3 226.8,551.1 227.5,551.1 228.2,550.7 228.8,550.2 229.5,550.5 230.2,549.6 230.9,548.6 231.5,548.2 232.2,547.4 232.9,547.4 233.5,547.3 234.2,547.3 234.9,548.4 235.5,547.3 236.2,552.9 236.9,547.1 237.6,547.6 238.2,547.6 238.9,547.7 239.6,547.6 240.2,548.3 240.9,548.0 241.6,546.3 242.2,546.4 242.9,546.5 243.6,546.2 244.3,545.9 244.9,543.8 245.6,544.9 246.3,544.8 246.9,544.9 247.6,545.6 248.3,544.2 248.9,543.5 249.6,543.8 250.3,544.2 251.0,544.8 251.6,545.3 252.3,488.0 253.0,545.5 253.6,546.2 254.3,496.6 255.0,502.3 255.6,546.7 256.3,547.8 257.0,545.9 257.7,546.9 258.3,546.8 259.0,546.7 259.7,547.2 260.3,547.0 261.0,546.4 261.7,546.9 262.4,546.2 263.0,545.6 263.7,545.8 264.4,545.5 265.0,545.7 265.7,545.5 266.4,546.4 267.0,546.6 267.7,547.6 268.4,547.5 269.1,548.2 269.7,548.2 270.4,549.1 271.1,492.3 271.7,496.6 272.4,549.8 273.1,540.7 273.7,549.4 274.4,550.1 275.1,549.8 275.8,542.9 276.4,549.0 277.1,549.2 277.8,547.2 278.4,547.6 279.1,547.1 279.8,546.2 280.4,546.3 281.1,546.8 281.8,546.4 282.4,546.4 283.1,546.2 283.8,538.6 284.5,547.5 285.1,547.4 285.8,546.9 286.5,546.6 287.1,547.2 287.8,547.1 288.5,546.5 289.1,546.7 289.8,547.1 290.5,547.1 291.2,547.6 291.8,546.5 292.5,546.4 293.2,496.6 293.8,545.8 294.5,545.9 295.2,545.7 295.9,546.1 296.5,544.7 297.2,545.5 297.9,544.9 298.5,508.1 299.2,498.0 299.9,545.5 300.5,500.6 301.2,498.1 301.9,496.4 302.6,495.1 303.2,493.2 303.9,490.8 304.6,490.3 305.2,489.0 305.9,487.1 306.6,486.3 307.2,485.3 307.9,483.9 308.6,484.0 309.2,482.5 309.9,482.2 310.6,481.6 311.3,480.8 311.9,479.6 312.6,479.4 313.3,479.4 313.9,478.7 314.6,477.5 315.3,477.3 315.9,477.5 316.6,476.1 317.3,476.7 318.0,476.6 318.6,476.0 319.3,475.5 320.0,475.0 320.6,475.0 321.3,475.2 322.0,475.1 322.6,496.6 323.3,501.6 324.0,506.6 324.7,547.7 325.3,546.8 326.0,547.7 326.7,548.2 327.3,547.2 328.0,547.3 328.7,547.6 329.4,547.4 330.0,547.3 330.7,547.6 331.4,547.0 332.0,547.3 332.7,548.0 333.4,548.3 334.0,548.0 334.7,548.7 335.4,549.8 336.0,549.3 336.7,548.8 337.4,549.7 338.1,550.4 338.7,549.2 339.4,548.7 340.1,549.8 340.7,550.9 341.4,550.3 342.1,548.4 342.8,549.2 343.4,548.5 344.1,548.3 344.8,548.3 345.4,547.4 346.1,507.3 346.8,547.8 347.4,548.0 348.1,548.2 348.8,547.3 349.4,549.3 350.1,549.7 350.8,548.9 351.5,550.4 352.1,550.1 352.8,551.0 353.5,550.3 354.1,551.0 354.8,550.8 355.5,551.7 356.1,551.4 356.8,552.5 357.5,550.8 358.2,550.9 358.8,500.2 359.5,550.7 360.2,550.7 360.8,550.3 361.5,549.2 362.2,550.3 362.9,550.2 363.5,549.5 364.2,549.8 364.9,550.4 365.5,549.4 366.2,549.6 366.9,550.9 367.5,550.1 368.2,551.9 368.9,550.7 369.6,552.5 370.2,551.6 370.9,551.9 371.6,552.1 372.2,551.5 372.9,552.1 373.6,551.8 374.2,551.7 374.9,550.1 375.6,550.8 376.2,550.0 376.9,550.0 377.6,549.0 378.3,549.8 378.9,549.5 379.6,549.3 380.3,548.8 380.9,549.3 381.6,548.7 382.3,548.8 382.9,548.8 383.6,549.2 384.3,549.0 385.0,550.1 385.6,550.3 386.3,550.6 387.0,550.7 387.6,551.0 388.3,550.1 389.0,550.1 389.6,551.1 390.3,549.9 391.0,549.9 391.7,549.7 392.3,549.1 393.0,548.1 393.7,548.4 394.3,549.3 395.0,548.0 395.7,548.5 396.4,547.3 397.0,548.4 397.7,548.4 398.4,548.7 399.0,549.2 399.7,549.3 400.4,549.5 401.0,548.7 401.7,550.1 402.4,550.2 403.1,550.6 403.7,550.7 404.4,550.8 405.1,550.2 405.7,552.4 406.4,551.1 407.1,551.1 407.7,550.0 408.4,550.7 409.1,549.6 409.8,549.3 410.4,550.0 411.1,549.3 411.8,549.7 412.4,549.1 413.1,549.3 413.8,549.1 414.4,549.4 415.1,550.6 415.8,549.6 416.4,550.6 417.1,550.4 417.8,551.1 418.5,550.9 419.1,552.2 419.8,551.0 420.5,552.2 421.1,551.7 421.8,551.3 422.5,552.1 423.1,501.6 423.8,550.8 424.5,509.5 425.2,550.2 425.8,550.4 426.5,550.1 427.2,549.8 427.8,549.1 428.5,549.1 429.2,548.7 429.9,548.3 430.5,549.3 431.2,549.5 431.9,549.3 432.5,549.5 433.2,503.8 433.9,550.5 434.5,550.3 435.2,550.2 435.9,550.9 436.6,551.3 437.2,549.7 437.9,552.2 438.6,549.8 439.2,550.7 439.9,550.4 440.6,549.9 441.2,538.6 441.9,549.9 442.6,549.9 443.2,548.9 443.9,548.3 444.6,549.0 445.3,547.8 445.9,549.7 446.6,548.8 447.3,549.2 447.9,549.1 448.6,550.6 449.3,508.1 450.0,550.8 450.6,552.2 451.3,551.6 452.0,506.6 452.6,539.7 453.3,551.6 454.0,552.0 454.6,551.0 455.3,551.5 456.0,552.0 456.6,551.7 457.3,551.1 458.0,551.4 458.7,550.6 459.3,550.4 460.0,550.1 460.7,550.4 461.3,550.4 462.0,551.1 462.7,550.5 463.4,550.8 464.0,550.9 464.7,551.0 465.4,551.9 466.0,516.7 466.7,552.4 467.4,552.9 468.0,553.3 468.7,553.1 469.4,552.4 470.1,553.7 470.7,540.0 471.4,551.9 472.1,551.6 472.7,551.9 473.4,551.6 474.1,550.6 474.7,550.5 475.4,549.7 476.1,550.5 476.8,550.3 477.4,549.4 478.1,550.0 478.8,549.9 479.4,549.3 480.1,549.7 480.8,550.4 481.4,550.2 482.1,550.7 482.8,550.4 483.4,550.9 484.1,551.7 484.8,550.5 485.5,551.5 486.1,551.4 486.8,551.7 487.5,551.3 488.1,551.3 488.8,550.6 489.5,550.4 490.2,549.8 490.8,549.7 491.5,550.1 492.2,550.0 492.8,550.0 493.5,549.0 494.2,549.9 494.8,548.8 495.5,549.6 496.2,550.0 496.9,550.1 497.5,549.6 498.2,550.8 498.9,551.4 499.5,552.0 500.2,552.6 500.9,552.4 501.5,551.6 502.2,552.0 502.9,552.7 503.6,553.6 504.2,551.7 504.9,551.9 505.6,552.9 506.2,551.8 506.9,552.0 507.6,550.7 508.2,550.7 508.9,551.2 509.6,551.9 510.2,550.9 510.9,549.5 511.6,550.6 512.3,551.2 512.9,550.7 513.6,516.7 514.3,550.8 514.9,508.1 515.6,502.3 516.3,500.2 517.0,509.5 517.6,552.4 518.3,553.4 519.0,552.6 519.6,552.2 520.3,552.6 521.0,552.1 521.6,551.4 522.3,551.7 523.0,550.9 523.7,551.0 524.3,551.1 525.0,531.4 525.7,550.4 526.3,506.6 527.0,535.7 527.7,502.3 528.3,498.0 529.0,503.8 529.7,549.0 530.4,550.6 531.0,550.3 531.7,550.9 532.4,550.7 533.0,551.2 533.7,551.2 534.4,551.5 535.0,551.8 535.7,551.6 536.4,551.7 537.0,537.1 537.7,551.2 538.4,549.4 539.1,550.1 539.7,545.8 540.4,550.7 541.1,549.9 541.7,549.2 542.4,548.9 543.1,549.3 543.8,549.9 544.4,550.5 545.1,549.9 545.8,551.1 546.4,550.5 547.1,551.2 547.8,551.6 548.4,552.0 549.1,552.7 549.8,552.8 550.5,552.2 551.1,552.8 551.8,512.4 552.5,552.0 553.1,552.1 553.8,552.1 554.5,506.6 555.1,551.3 555.8,551.3 556.5,551.9 557.2,551.4 557.8,550.5 558.5,550.3 559.2,551.0 559.8,551.4 560.5,550.2 561.2,551.2 561.8,510.9 562.5,551.4 563.2,551.7 563.9,552.1 564.5,551.4 565.2,503.8 565.9,552.5 566.5,552.9 567.2,551.6 567.9,515.2 568.5,553.0 569.2,509.5 569.9,552.9 570.5,551.8 571.2,504.3 571.9,503.3 572.6,502.6 573.2,501.9 573.9,501.0 574.6,500.2 575.2,499.8 575.9,499.1 576.6,498.8 577.2,497.9 577.9,497.6 578.6,497.5 579.3,496.3 579.9,496.5 580.6,495.9 581.3,495.9 581.9,495.7 582.6,494.7 583.3,495.0 584.0,494.9 584.6,494.1 585.3,494.2 586.0,493.6 586.6,492.8 587.3,493.3 588.0,492.9 588.6,492.6 589.3,492.6 590.0,492.5 590.7,491.9 591.3,492.2 592.0,492.0 592.7,491.9 593.3,492.2 594.0,491.6 594.7,491.6 595.3,491.4 596.0,491.3 596.7,550.2 597.4,551.5 598.0,550.9 598.7,508.1 599.4,551.2 600.0,550.6 600.7,500.2 601.4,551.7 602.0,496.6 602.7,551.5 603.4,552.1 604.0,550.8 604.7,551.1 605.4,550.5 606.1,550.9 606.7,551.0 607.4,549.8 608.1,550.6 608.7,550.6 609.4,550.7 610.1,551.2 610.8,551.4 611.4,552.2 612.1,551.8 612.8,552.0 613.4,552.9 614.1,553.6 614.8,553.3 615.4,552.9 616.1,553.0 616.8,553.2 617.5,553.8 618.1,553.0 618.8,553.2 619.5,552.4 620.1,552.3 620.8,552.7 621.5,551.8 622.1,551.5 622.8,550.8 623.5,550.1 624.2,551.6 624.8,551.1 625.5,551.1 626.2,551.1 626.8,551.1 627.5,550.3 628.2,551.0 628.8,551.6 629.5,551.5 630.2,551.9 630.9,552.4 631.5,552.3 632.2,552.2 632.9,551.9 633.5,553.0 634.2,552.3 634.9,552.1 635.5,551.9 636.2,522.8 636.9,551.8 637.5,552.1 638.2,551.6 638.9,551.2 639.6,551.1 640.2,550.5 640.9,550.8 641.6,550.9 642.2,551.2 642.9,551.0 643.6,552.0 644.2,550.8 644.9,552.6 645.6,552.5 646.3,552.6 646.9,552.9 647.6,552.9 648.3,554.3 648.9,553.5 649.6,554.1 650.3,522.1 651.0,554.4 651.6,553.3 652.3,552.8 653.0,552.9 653.6,552.5 654.3,552.4 655.0,551.9 655.6,551.4 656.3,551.8 657.0,551.1 657.7,551.7 658.3,551.3 659.0,552.5 659.7,551.2 660.3,551.9 661.0,552.1 661.7,551.8 662.3,553.3 663.0,553.6 663.7,554.6 664.4,552.9 665.0,553.2 665.7,552.4 666.4,553.3 667.0,553.0 667.7,552.9 668.4,552.5 669.0,552.2 669.7,552.3 670.4,552.0 671.0,551.5 671.7,551.6 672.4,512.4 673.1,515.2 673.7,550.7 674.4,550.5 675.1,550.8 675.7,549.9 676.4,550.6 677.1,523.1 677.8,551.9 678.4,551.9 679.1,552.8 679.8,551.4 680.4,552.4 681.1,551.9 681.8,551.7 682.4,553.0 683.1,551.9 683.8,552.2 684.5,551.7 685.1,551.6 685.8,551.2 686.5,551.3 687.1,551.7 687.8,551.2 688.5,550.7 689.1,550.6 689.8,551.0 690.5,550.9 691.2,550.6 691.8,550.3 692.5,551.1 693.2,551.7 693.8,551.6 694.5,552.6 695.2,552.2 695.8,553.4 696.5,552.6 697.2,523.9 697.9,552.7 698.5,553.5 699.2,522.8 699.9,553.2 700.5,553.3 701.2,553.0 701.9,551.8 702.5,552.2 703.2,552.0 703.9,553.1 704.5,551.2 705.2,551.4 705.9,551.7 706.6,552.2 707.2,552.3 707.9,552.2 708.6,551.9 709.2,552.0 709.9,552.2 710.6,552.4 711.2,552.8 711.9,553.1 712.6,553.9 713.3,552.3 713.9,552.9 714.6,552.9 715.3,553.4 715.9,553.9 716.6,552.2 717.3,553.2 718.0,553.1 718.6,551.8 719.3,551.0 720.0,551.6 720.6,551.1 721.3,550.6 722.0,550.6 722.6,550.6 723.3,550.2 724.0,550.2 724.7,551.0 725.3,550.9 726.0,550.9 726.7,550.9 727.3,551.5 728.0,552.1 728.7,552.1 729.3,552.8 730.0,552.5 730.7,552.0 731.3,552.5 732.0,552.4 732.7,552.2 733.4,552.3 734.0,552.6 734.7,552.3 735.4,551.1 736.0,551.5 736.7,551.9 737.4,550.3 738.0,551.2 738.7,551.6 739.4,550.0 740.1,550.8 740.7,551.3 741.4,521.0 742.1,551.5 742.7,552.5 743.4,552.1 744.1,553.2 744.8,553.5 745.4,554.2 746.1,553.6 746.8,552.7 747.4,554.5 748.1,554.3 748.8,553.6 749.4,552.8 750.1,553.7 750.8,553.2 751.5,553.3 752.1,553.0 752.8,552.2 753.5,552.7 754.1,551.8 754.8,551.7 755.5,552.3 756.1,552.6 756.8,552.3 757.5,552.9 758.2,552.9 758.8,552.8 759.5,552.9 760.2,553.3 760.8,554.5 761.5,553.9 762.2,553.6 762.8,521.0 763.5,553.6 764.2,554.9 764.8,554.3 765.5,553.9 766.2,518.1 766.9,553.9 767.5,553.3 768.2,552.1 768.9,552.2 769.5,551.6 770.2,551.3 770.9,550.4 771.5,551.2 772.2,550.6 772.9,551.4 773.6,551.3 774.2,552.3 774.9,552.0 775.6,552.4 776.2,551.8 776.9,552.6 777.6,552.6 778.2,552.9 778.9,552.9 779.6,554.1 780.3,552.7 780.9,553.9 781.6,553.1 782.3,552.5 782.9,553.0 783.6,551.6 784.3,551.9 785.0,552.0 785.6,552.1 786.3,552.0 787.0,551.0 787.6,551.1 788.3,517.8 789.0,515.6 789.6,514.7 790.3,513.9 791.0,513.2 791.7,512.1 792.3,511.7 793.0,510.8 793.7,510.4 794.3,509.9 795.0,509.1 795.7,508.6 796.3,508.2 797.0,508.0 797.7,507.3 798.4,507.8 799.0,507.2 799.7,506.9 800.4,506.4 801.0,507.2 801.7,506.5 802.4,506.3 803.0,506.1 803.7,549.9 804.4,549.4 805.0,549.4 805.7,549.1 806.4,549.6 807.1,550.0 807.7,550.4 808.4,550.9 809.1,551.2 809.7,552.0 810.4,552.2 811.1,552.2 811.8,552.7 812.4,552.3 813.1,552.4 813.8,552.0 814.4,516.7 815.1,553.0 815.8,551.8 816.4,551.5 817.1,551.6 817.8,551.9 818.5,551.4 819.1,550.8 819.8,550.9 820.5,551.0 821.1,551.0 821.8,550.8 822.5,551.5 823.1,551.4 823.8,551.9 824.5,551.8 825.2,553.0 825.8,551.6 826.5,552.4 827.2,552.0 827.8,553.4 828.5,552.4 829.2,552.5 829.8,553.0 830.5,553.3 831.2,553.2 831.9,553.2 832.5,552.1 833.2,551.3 833.9,551.9 834.5,551.9 835.2,523.9 835.9,551.4 836.5,550.9 837.2,551.5 837.9,551.2 838.5,552.0 839.2,553.2 839.9,552.3 840.6,551.7 841.2,553.8 841.9,551.5 842.6,552.5 843.2,518.1 843.9,521.0 844.6,554.0 845.2,553.6 845.9,554.9 846.6,554.7 847.3,554.9 847.9,554.1 848.6,554.2 849.3,553.8 849.9,553.5 850.6,553.5 851.3,551.7 852.0,552.6 852.6,551.9 853.3,520.9 854.0,519.7 854.6,517.9 855.3,517.4 856.0,516.7 856.6,515.4 857.3,515.2 858.0,514.5 858.7,513.3 859.3,513.0 860.0,512.3 860.7,511.8 861.3,511.9 862.0,511.1 862.7,511.1 863.3,510.6 864.0,510.3 864.7,510.2 865.4,510.3 866.0,510.2 866.7,551.9 867.4,509.8 868.0,550.2 868.7,510.9 869.4,512.4 870.0,524.2 870.7,549.6 871.4,513.8 872.0,515.2 872.7,531.6 873.4,516.7 874.1,519.9 874.7,551.6 875.4,551.5 876.1,551.4 876.7,552.1 877.4,552.4 878.1,551.9 878.8,551.6 879.4,551.8 880.1,552.2 880.8,551.4 881.4,551.3 882.1,550.2 882.8,551.1 883.4,550.3 884.1,550.4 884.8,550.1 885.5,549.3 886.1,548.6 886.8,550.1 887.5,550.3 888.1,550.4 888.8,550.9 889.5,551.8 890.1,552.5 890.8,552.6 891.5,552.6 892.2,552.9 892.8,553.7 893.5,554.6 894.2,553.7 894.8,554.2 895.5,554.3 896.2,553.5 896.8,552.8 897.5,553.5 898.2,552.9 898.9,554.5 899.5,552.4 900.2,553.5 900.9,553.0 901.5,552.0 902.2,552.5 902.9,552.6 903.5,551.2 904.2,552.0 904.9,551.9 905.5,552.4 906.2,553.5 906.9,553.2 907.6,554.4 908.2,553.2 908.9,554.2 909.6,554.4 910.2,554.0 910.9,554.6 911.6,553.8 912.2,554.4 912.9,553.2 913.6,553.8 914.3,553.9 914.9,551.5 915.6,551.7 916.3,552.1 916.9,552.5 917.6,551.7 918.3,551.6 919.0,551.7 919.6,550.9 920.3,551.7 921.0,551.0 921.6,551.8 922.3,551.1 923.0,523.9 923.6,552.6 924.3,525.3 925.0,553.7 925.7,553.6 926.3,553.7 927.0,553.1 927.7,553.6 928.3,553.3 929.0,554.0 929.7,553.0 930.3,553.9 931.0,552.4 931.7,553.3 932.4,552.0 933.0,552.2 933.7,552.7 934.4,552.4 935.0,551.9 935.7,552.5 936.4,553.2 937.0,551.6 937.7,552.9 938.4,552.4 939.0,553.5 939.7,555.1 940.4,553.6 941.1,554.4 941.7,554.7 942.4,554.3 943.1,555.4 943.7,554.6 944.4,555.3 945.1,555.2 945.8,555.1 946.4,555.1 947.1,554.8 947.8,554.4 948.4,553.1 949.1,553.1 949.8,553.2 950.4,552.5 951.1,553.4 951.8,552.9 952.5,552.8 953.1,553.2 953.8,553.1 954.5,553.0 955.1,552.9 955.8,554.5 956.5,554.7 957.1,554.7 957.8,521.0 958.5,523.9 959.2,554.4 959.8,554.5 960.5,554.1 961.2,554.4 961.8,554.1 962.5,553.9 963.2,553.5 963.8,552.6 964.5,552.5 965.2,551.8 965.9,552.2 966.5,552.1 967.2,552.2 967.9,552.3 968.5,551.3 969.2,551.0 969.9,552.1 970.5,551.8 971.2,552.6 971.9,552.4 972.5,552.6 973.2,553.1 973.9,553.2 974.6,553.4 975.2,553.0 975.9,553.8 976.6,553.4 977.2,554.5 977.9,552.9 978.6,554.0 979.2,553.4 979.9,552.1 980.6,552.6 981.3,551.7 981.9,552.5 982.6,551.8 983.3,552.7 983.9,551.4 984.6,552.1 985.3,552.6 986.0,551.8 986.6,552.2 987.3,552.6 988.0,553.0 988.6,553.7 989.3,554.2 990.0,553.9 990.6,555.1 991.3,555.2 992.0,555.0 992.7,554.1 993.3,554.3 994.0,554.5 994.7,555.0 995.3,553.8 996.0,553.1 996.7,554.3 997.3,553.7 998.0,553.1 998.7,552.4 999.4,553.5 1000.0,552.3 1000.7,553.2 1001.4,552.8 1002.0,552.9 1002.7,553.1 1003.4,553.1 1004.0,553.3 1004.7,554.3 1005.4,553.8 1006.0,552.9 1006.7,553.7 1007.4,553.8 1008.1,553.8 1008.7,553.6 1009.4,554.3 1010.1,553.5 1010.7,553.4 1011.4,553.3 1012.1,552.7 1012.8,552.9 1013.4,552.4 1014.1,551.4 1014.8,552.3 1015.4,551.2 1016.1,550.6 1016.8,551.1 1017.4,550.9 1018.1,551.2 1018.8,551.5 1019.5,551.0 1020.1,551.9 1020.8,552.3 1021.5,551.9 1022.1,552.6 1022.8,552.8 1023.5,552.4 1024.1,552.9 1024.8,554.4 1025.5,552.2 1026.2,553.7 1026.8,553.6 1027.5,552.9 1028.2,553.1 1029.3,556.5" fill="none" stroke="#1c1c1c" stroke-opacity="0.78" stroke-width="0.9" stroke-linejoin="round" marker-start="url(#mk)" marker-mid="url(#mk)" marker-end="url(#mk)"/>
<polyline points="198.7,503.2 199.4,521.3 200.0,503.1 200.7,504.2 201.4,501.2 202.0,504.6 202.7,485.4 203.4,504.3 204.1,504.2 204.7,504.9 205.4,481.1 206.1,505.1 206.7,505.3 207.4,505.2 208.1,499.1 208.8,476.8 209.4,481.1 210.1,537.1 210.8,505.9 211.4,491.9 212.1,506.0 212.8,502.7 213.4,506.2 214.1,479.7 214.8,476.8 215.4,482.6 216.1,499.1 216.8,504.0 217.5,504.3 218.1,504.5 218.8,504.5 219.5,505.4 220.1,505.8 220.8,505.2 221.5,506.5 222.1,506.5 222.8,506.4 223.5,506.1 224.2,507.2 224.8,507.8 225.5,507.1 226.2,507.6 226.8,507.7 227.5,507.6 228.2,507.8 228.8,507.9 229.5,508.3 230.2,507.9 230.9,508.0 231.5,508.5 232.2,508.8 232.9,508.5 233.5,508.7 234.2,509.3 234.9,509.2 235.5,508.9 236.2,517.0 236.9,509.5 237.6,509.4 238.2,509.6 238.9,509.7 239.6,510.4 240.2,505.6 240.9,509.9 241.6,510.3 242.2,509.9 242.9,510.2 243.6,510.4 244.3,510.2 244.9,509.9 245.6,510.5 246.3,510.3 246.9,510.2 247.6,511.2 248.3,511.2 248.9,510.9 249.6,511.7 250.3,511.4 251.0,511.0 251.6,511.1 252.3,486.9 253.0,489.8 253.6,510.9 254.3,495.5 255.0,501.2 255.6,505.6 256.3,512.2 257.0,512.2 257.7,509.0 258.3,508.5 259.0,509.6 259.7,509.8 260.3,510.1 261.0,510.1 261.7,510.3 262.4,510.6 263.0,511.3 263.7,512.0 264.4,511.2 265.0,511.4 265.7,511.2 266.4,511.7 267.0,512.0 267.7,511.8 268.4,512.5 269.1,512.5 269.7,512.6 270.4,512.3 271.1,491.2 271.7,495.5 272.4,499.8 273.1,505.6 273.7,509.9 274.4,510.5 275.1,510.8 275.8,511.7 276.4,511.7 277.1,512.0 277.8,511.7 278.4,511.9 279.1,512.0 279.8,512.1 280.4,512.9 281.1,512.6 281.8,512.6 282.4,513.3 283.1,513.1 283.8,513.6 284.5,514.2 285.1,513.8 285.8,514.2 286.5,514.1 287.1,514.4 287.8,514.2 288.5,515.1 289.1,514.0 289.8,514.3 290.5,514.8 291.2,515.1 291.8,514.9 292.5,514.7 293.2,495.5 293.8,514.9 294.5,522.8 295.2,515.5 295.9,514.8 296.5,515.2 297.2,515.6 297.9,515.6 298.5,507.0 299.2,496.9 299.9,517.0 300.5,499.8 301.2,497.3 301.9,495.6 302.6,494.3 303.2,492.3 303.9,489.9 304.6,489.4 305.2,488.2 305.9,486.3 306.6,485.5 307.2,484.5 307.9,483.1 308.6,483.1 309.2,481.7 309.9,481.3 310.6,480.7 311.3,479.9 311.9,478.8 312.6,478.6 313.3,478.6 313.9,477.9 314.6,476.7 315.3,476.4 315.9,476.7 316.6,475.3 317.3,475.8 318.0,475.7 318.6,475.2 319.3,474.6 320.0,474.2 320.6,474.1 321.3,474.3 322.0,474.2 322.6,495.5 323.3,500.5 324.0,505.6 324.7,517.3 325.3,514.2 326.0,517.6 326.7,505.8 327.3,506.7 328.0,507.5 328.7,508.1 329.4,508.9 330.0,509.0 330.7,509.7 331.4,510.7 332.0,510.7 332.7,511.3 333.4,511.4 334.0,512.3 334.7,512.7 335.4,513.2 336.0,513.4 336.7,513.6 337.4,514.0 338.1,514.4 338.7,514.5 339.4,514.9 340.1,515.1 340.7,515.7 341.4,515.6 342.1,516.2 342.8,516.3 343.4,516.2 344.1,515.8 344.8,516.3 345.4,516.8 346.1,506.3 346.8,516.8 347.4,529.2 348.1,517.0 348.8,505.3 349.4,501.7 350.1,498.9 350.8,496.4 351.5,494.6 352.1,492.7 352.8,491.9 353.5,490.5 354.1,489.0 354.8,488.6 355.5,487.5 356.1,487.5 356.8,486.8 357.5,486.2 358.2,519.3 358.8,499.1 359.5,541.5 360.2,508.5 360.8,509.3 361.5,510.0 362.2,541.5 362.9,511.2 363.5,511.5 364.2,512.1 364.9,513.0 365.5,513.5 366.2,514.3 366.9,514.8 367.5,515.0 368.2,515.0 368.9,515.5 369.6,515.7 370.2,516.0 370.9,516.7 371.6,516.3 372.2,517.4 372.9,517.7 373.6,517.9 374.2,517.6 374.9,518.3 375.6,518.7 376.2,530.0 376.9,518.5 377.6,519.1 378.3,527.8 378.9,519.1 379.6,519.3 380.3,507.0 380.9,520.1 381.6,509.4 382.3,507.1 382.9,505.9 383.6,503.5 384.3,502.6 385.0,501.7 385.6,500.2 386.3,500.2 387.0,499.9 387.6,499.3 388.3,498.8 389.0,498.4 389.6,498.4 390.3,521.8 391.0,512.9 391.7,513.6 392.3,514.3 393.0,514.6 393.7,515.3 394.3,515.6 395.0,516.4 395.7,516.9 396.4,517.1 397.0,517.6 397.7,517.5 398.4,518.5 399.0,518.5 399.7,518.9 400.4,519.6 401.0,519.3 401.7,519.7 402.4,520.6 403.1,520.1 403.7,520.2 404.4,521.0 405.1,520.5 405.7,521.1 406.4,521.7 407.1,521.4 407.7,521.8 408.4,522.3 409.1,522.7 409.8,522.1 410.4,522.6 411.1,522.3 411.8,522.5 412.4,522.9 413.1,506.0 413.8,502.8 414.4,500.8 415.1,499.3 415.8,498.2 416.4,497.1 417.1,496.0 417.8,509.9 418.5,494.2 419.1,493.8 419.8,493.6 420.5,492.8 421.1,492.7 421.8,492.2 422.5,491.7 423.1,500.5 423.8,522.8 424.5,508.4 425.2,513.5 425.8,514.1 426.5,515.5 427.2,516.9 427.8,516.9 428.5,518.0 429.2,517.7 429.9,519.4 430.5,519.9 431.2,520.4 431.9,520.6 432.5,499.1 433.2,502.7 433.9,508.4 434.5,514.3 435.2,515.3 435.9,516.2 436.6,516.2 437.2,517.3 437.9,517.8 438.6,518.9 439.2,519.2 439.9,519.8 440.6,520.3 441.2,520.4 441.9,520.9 442.6,521.3 443.2,521.7 443.9,522.5 444.6,522.6 445.3,522.5 445.9,523.0 446.6,523.3 447.3,523.2 447.9,523.8 448.6,523.9 449.3,507.0 450.0,524.1 450.6,523.8 451.3,502.7 452.0,505.6 452.6,511.3 453.3,525.3 454.0,518.0 454.6,518.9 455.3,519.2 456.0,519.5 456.6,519.6 457.3,520.4 458.0,520.3 458.7,521.3 459.3,514.2 460.0,521.8 460.7,521.9 461.3,522.4 462.0,522.9 462.7,523.1 463.4,523.6 464.0,523.1 464.7,523.4 465.4,523.7 466.0,515.6 466.7,524.4 467.4,524.5 468.0,524.3 468.7,524.9 469.4,525.1 470.1,524.5 470.7,518.5 471.4,523.1 472.1,523.3 472.7,523.7 473.4,523.6 474.1,524.4 474.7,524.4 475.4,524.5 476.1,524.4 476.8,525.1 477.4,525.1 478.1,525.4 478.8,525.6 479.4,525.7 480.1,525.6 480.8,525.5 481.4,526.1 482.1,526.1 482.8,526.2 483.4,526.0 484.1,526.0 484.8,526.7 485.5,526.3 486.1,526.7 486.8,526.3 487.5,526.8 488.1,526.9 488.8,526.9 489.5,526.8 490.2,527.1 490.8,526.8 491.5,526.8 492.2,526.9 492.8,526.9 493.5,526.8 494.2,527.3 494.8,527.1 495.5,527.1 496.2,527.7 496.9,527.1 497.5,527.4 498.2,527.5 498.9,527.4 499.5,527.3 500.2,527.2 500.9,527.2 501.5,527.6 502.2,527.2 502.9,527.3 503.6,527.6 504.2,527.5 504.9,527.3 505.6,527.4 506.2,527.4 506.9,527.6 507.6,527.3 508.2,527.0 508.9,527.5 509.6,528.2 510.2,527.2 510.9,527.9 511.6,528.2 512.3,528.5 512.9,527.7 513.6,515.6 514.3,511.3 514.9,507.0 515.6,501.2 516.3,499.1 517.0,508.4 517.6,527.9 518.3,527.9 519.0,527.9 519.6,527.8 520.3,528.6 521.0,519.7 521.6,521.3 522.3,521.8 523.0,523.0 523.7,523.4 524.3,524.1 525.0,525.0 525.7,530.0 526.3,505.6 527.0,526.1 527.7,501.2 528.3,496.9 529.0,502.7 529.7,526.8 530.4,506.3 531.0,515.8 531.7,517.0 532.4,522.1 533.0,518.8 533.7,520.4 534.4,520.5 535.0,521.1 535.7,521.5 536.4,535.7 537.0,522.4 537.7,522.6 538.4,523.5 539.1,523.6 539.7,524.1 540.4,524.4 541.1,524.6 541.7,525.1 542.4,525.2 543.1,525.5 543.8,525.4 544.4,526.0 545.1,526.0 545.8,525.6 546.4,526.3 547.1,526.5 547.8,526.5 548.4,527.2 549.1,526.9 549.8,527.0 550.5,527.2 551.1,527.1 551.8,511.3 552.5,507.7 553.1,504.1 553.8,499.1 554.5,505.6 555.1,527.6 555.8,527.9 556.5,528.4 557.2,520.5 557.8,521.8 558.5,522.2 559.2,523.3 559.8,524.5 560.5,524.6 561.2,524.7 561.8,509.9 562.5,505.6 563.2,501.2 563.9,526.4 564.5,496.9 565.2,502.7 565.9,527.2 566.5,527.7 567.2,522.8 567.9,514.2 568.5,527.7 569.2,508.4 569.9,528.1 570.5,504.2 571.2,503.4 571.9,502.4 572.6,501.7 573.2,501.0 573.9,500.1 574.6,499.3 575.2,499.0 575.9,498.2 576.6,497.9 577.2,497.1 577.9,496.7 578.6,496.6 579.3,495.5 579.9,495.7 580.6,495.0 581.3,495.0 581.9,494.8 582.6,493.8 583.3,494.1 584.0,494.0 584.6,493.2 585.3,493.4 586.0,492.8 586.6,492.0 587.3,492.4 588.0,492.0 588.6,491.8 589.3,491.7 590.0,491.6 590.7,491.0 591.3,491.4 592.0,491.1 592.7,491.1 593.3,491.3 594.0,490.8 594.7,490.8 595.3,490.5 596.0,490.4 596.7,490.1 597.4,526.7 598.0,501.2 598.7,507.0 599.4,511.3 600.0,515.6 600.7,499.1 601.4,525.8 602.0,495.5 602.7,506.2 603.4,507.1 604.0,508.4 604.7,509.5 605.4,510.3 606.1,511.3 606.7,512.4 607.4,512.5 608.1,513.9 608.7,514.3 609.4,515.0 610.1,515.6 610.8,516.6 611.4,507.0 612.1,517.5 612.8,518.0 613.4,519.3 614.1,519.8 614.8,519.7 615.4,520.0 616.1,520.4 616.8,512.7 617.5,521.3 618.1,520.6 618.8,521.4 619.5,521.6 620.1,522.2 620.8,523.1 621.5,522.7 622.1,523.2 622.8,523.1 623.5,523.5 624.2,523.5 624.8,524.1 625.5,524.1 626.2,524.2 626.8,524.6 627.5,524.7 628.2,524.5 628.8,524.3 629.5,525.0 630.2,524.9 630.9,525.5 631.5,525.5 632.2,525.3 632.9,525.4 633.5,525.9 634.2,525.6 634.9,525.8 635.5,525.5 636.2,521.7 636.9,525.9 637.5,526.3 638.2,526.2 638.9,526.6 639.6,526.6 640.2,527.0 640.9,520.6 641.6,526.9 642.2,526.6 642.9,526.6 643.6,527.1 644.2,526.8 644.9,526.7 645.6,526.6 646.3,526.9 646.9,526.9 647.6,527.1 648.3,526.8 648.9,527.5 649.6,527.0 650.3,521.0 651.0,526.7 651.6,526.9 652.3,527.8 653.0,527.4 653.6,527.7 654.3,527.8 655.0,527.5 655.6,527.7 656.3,527.1 657.0,527.6 657.7,527.8 658.3,527.5 659.0,527.4 659.7,527.3 660.3,527.5 661.0,528.0 661.7,527.9 662.3,527.7 663.0,527.9 663.7,527.5 664.4,527.8 665.0,527.8 665.7,527.9 666.4,527.8 667.0,528.3 667.7,527.3 668.4,528.1 669.0,528.1 669.7,528.4 670.4,528.0 671.0,528.4 671.7,527.9 672.4,511.3 673.1,514.2 673.7,528.2 674.4,527.7 675.1,528.2 675.7,528.2 676.4,528.1 677.1,522.1 677.8,528.1 678.4,528.6 679.1,528.7 679.8,527.9 680.4,528.5 681.1,528.4 681.8,528.2 682.4,528.5 683.1,528.7 683.8,528.4 684.5,528.7 685.1,528.3 685.8,528.6 686.5,528.5 687.1,528.3 687.8,529.0 688.5,529.0 689.1,528.4 689.8,528.2 690.5,528.6 691.2,528.8 691.8,528.3 692.5,528.5 693.2,521.0 693.8,529.2 694.5,528.8 695.2,529.0 695.8,529.1 696.5,528.6 697.2,522.8 697.9,529.0 698.5,528.9 699.2,521.7 699.9,528.7 700.5,528.9 701.2,528.8 701.9,528.9 702.5,529.3 703.2,529.1 703.9,528.9 704.5,528.9 705.2,529.4 705.9,529.3 706.6,529.3 707.2,529.5 707.9,528.8 708.6,529.0 709.2,528.8 709.9,529.8 710.6,529.5 711.2,528.7 711.9,529.7 712.6,529.8 713.3,529.2 713.9,528.9 714.6,529.2 715.3,529.6 715.9,529.2 716.6,529.3 717.3,529.4 718.0,529.3 718.6,529.2 719.3,529.2 720.0,529.1 720.6,529.2 721.3,529.6 722.0,530.1 722.6,529.4 723.3,530.0 724.0,529.0 724.7,530.0 725.3,530.2 726.0,530.2 726.7,529.6 727.3,529.7 728.0,529.6 728.7,529.7 729.3,530.0 730.0,529.6 730.7,530.1 731.3,530.3 732.0,529.6 732.7,529.8 733.4,530.2 734.0,530.0 734.7,529.7 735.4,529.7 736.0,530.3 736.7,529.7 737.4,530.8 738.0,530.1 738.7,530.0 739.4,530.2 740.1,530.1 740.7,530.6 741.4,519.9 742.1,530.1 742.7,530.5 743.4,530.2 744.1,530.3 744.8,530.9 745.4,530.5 746.1,530.2 746.8,530.8 747.4,530.4 748.1,530.3 748.8,530.8 749.4,530.5 750.1,530.2 750.8,530.3 751.5,530.8 752.1,530.2 752.8,530.5 753.5,530.5 754.1,530.2 754.8,530.4 755.5,530.5 756.1,530.4 756.8,530.5 757.5,530.3 758.2,530.7 758.8,531.2 759.5,530.3 760.2,530.6 760.8,530.7 761.5,530.8 762.2,530.9 762.8,519.9 763.5,531.2 764.2,530.7 764.8,530.9 765.5,531.2 766.2,517.0 766.9,519.9 767.5,531.0 768.2,530.9 768.9,530.3 769.5,531.4 770.2,531.0 770.9,530.9 771.5,531.0 772.2,530.7 772.9,531.3 773.6,531.3 774.2,531.2 774.9,531.6 775.6,530.9 776.2,531.6 776.9,531.1 777.6,531.0 778.2,531.6 778.9,531.4 779.6,531.4 780.3,530.9 780.9,531.3 781.6,531.8 782.3,530.9 782.9,530.9 783.6,531.7 784.3,531.9 785.0,530.3 785.6,531.0 786.3,521.2 787.0,518.7 787.6,517.2 788.3,516.9 789.0,514.7 789.6,513.8 790.3,513.0 791.0,512.4 791.7,511.3 792.3,510.9 793.0,510.0 793.7,509.5 794.3,509.0 795.0,508.3 795.7,507.7 796.3,507.3 797.0,507.1 797.7,506.4 798.4,507.0 799.0,506.3 799.7,506.1 800.4,505.6 801.0,506.4 801.7,505.7 802.4,505.5 803.0,505.2 803.7,515.6 804.4,529.5 805.0,529.6 805.7,519.9 806.4,522.8 807.1,529.4 807.7,528.9 808.4,529.6 809.1,520.3 809.7,521.1 810.4,521.6 811.1,522.0 811.8,523.1 812.4,523.4 813.1,523.9 813.8,524.5 814.4,515.6 815.1,518.5 815.8,519.9 816.4,526.4 817.1,519.8 817.8,520.2 818.5,520.6 819.1,521.7 819.8,521.9 820.5,522.9 821.1,523.6 821.8,524.4 822.5,524.4 823.1,524.4 823.8,525.2 824.5,525.9 825.2,525.8 825.8,526.7 826.5,526.9 827.2,526.6 827.8,527.0 828.5,527.1 829.2,527.5 829.8,527.9 830.5,528.0 831.2,528.3 831.9,528.1 832.5,528.9 833.2,529.2 833.9,529.1 834.5,528.7 835.2,522.8 835.9,529.8 836.5,528.5 837.2,529.7 837.9,529.5 838.5,529.4 839.2,529.6 839.9,529.8 840.6,530.3 841.2,529.7 841.9,530.2 842.6,530.1 843.2,517.0 843.9,519.9 844.6,530.7 845.2,527.0 845.9,527.1 846.6,527.4 847.3,528.3 847.9,528.2 848.6,528.4 849.3,528.5 849.9,528.9 850.6,529.2 851.3,529.5 852.0,522.9 852.6,521.2 853.3,520.1 854.0,518.8 854.6,517.1 855.3,516.5 856.0,515.8 856.6,514.6 857.3,514.3 858.0,513.6 858.7,512.4 859.3,512.1 860.0,511.4 860.7,511.0 861.3,511.0 862.0,510.3 862.7,510.2 863.3,509.7 864.0,509.5 864.7,509.3 865.4,509.4 866.0,508.8 866.7,508.7 867.4,508.4 868.0,530.6 868.7,509.9 869.4,511.3 870.0,522.8 870.7,530.2 871.4,512.7 872.0,514.2 872.7,530.2 873.4,515.6 874.1,518.5 874.7,521.3 875.4,517.4 876.1,518.6 876.7,519.6 877.4,520.5 878.1,521.7 878.8,521.9 879.4,522.2 880.1,523.4 880.8,523.3 881.4,524.0 882.1,524.5 882.8,525.0 883.4,525.3 884.1,525.8 884.8,525.9 885.5,526.1 886.1,526.3 886.8,527.0 887.5,526.7 888.1,527.4 888.8,527.3 889.5,527.5 890.1,528.0 890.8,527.4 891.5,528.2 892.2,528.3 892.8,528.7 893.5,528.7 894.2,529.3 894.8,528.9 895.5,529.3 896.2,529.5 896.8,529.2 897.5,529.3 898.2,529.8 898.9,530.1 899.5,530.4 900.2,530.2 900.9,529.9 901.5,530.0 902.2,530.6 902.9,530.3 903.5,530.1 904.2,530.7 904.9,530.7 905.5,530.9 906.2,530.6 906.9,531.3 907.6,530.9 908.2,530.8 908.9,531.0 909.6,530.8 910.2,530.9 910.9,531.3 911.6,531.5 912.2,531.6 912.9,531.2 913.6,531.5 914.3,531.5 914.9,531.8 915.6,531.3 916.3,531.4 916.9,531.5 917.6,532.1 918.3,531.1 919.0,531.7 919.6,532.3 920.3,531.7 921.0,532.1 921.6,532.3 922.3,532.4 923.0,522.8 923.6,519.9 924.3,524.2 925.0,529.7 925.7,530.2 926.3,530.1 927.0,530.4 927.7,530.6 928.3,530.6 929.0,530.4 929.7,531.3 930.3,531.0 931.0,531.6 931.7,531.3 932.4,531.4 933.0,531.7 933.7,531.8 934.4,532.1 935.0,532.1 935.7,531.8 936.4,532.0 937.0,531.6 937.7,532.6 938.4,532.5 939.0,532.5 939.7,532.5 940.4,532.8 941.1,532.8 941.7,532.8 942.4,524.2 943.1,532.9 943.7,533.1 944.4,532.9 945.1,533.7 945.8,533.3 946.4,533.3 947.1,533.1 947.8,533.8 948.4,533.3 949.1,533.6 949.8,533.0 950.4,533.1 951.1,533.5 951.8,533.3 952.5,533.8 953.1,533.4 953.8,533.5 954.5,533.3 955.1,533.7 955.8,534.2 956.5,533.4 957.1,524.2 957.8,519.9 958.5,522.8 959.2,533.3 959.8,532.1 960.5,531.9 961.2,532.4 961.8,533.0 962.5,532.6 963.2,532.7 963.8,533.1 964.5,533.5 965.2,532.4 965.9,532.7 966.5,533.2 967.2,533.3 967.9,533.3 968.5,533.4 969.2,534.1 969.9,534.1 970.5,533.6 971.2,533.5 971.9,533.6 972.5,533.8 973.2,534.0 973.9,533.8 974.6,533.7 975.2,534.0 975.9,533.9 976.6,533.9 977.2,534.5 977.9,534.0 978.6,534.6 979.2,534.7 979.9,534.0 980.6,535.0 981.3,534.6 981.9,534.3 982.6,534.5 983.3,534.7 983.9,534.9 984.6,534.5 985.3,534.5 986.0,534.7 986.6,535.0 987.3,535.1 988.0,534.8 988.6,534.8 989.3,534.6 990.0,534.9 990.6,534.6 991.3,535.2 992.0,535.3 992.7,534.6 993.3,535.0 994.0,535.1 994.7,535.0 995.3,535.3 996.0,535.1 996.7,535.4 997.3,534.9 998.0,535.2 998.7,535.0 999.4,535.0 1000.0,534.9 1000.7,535.5 1001.4,535.0 1002.0,535.2 1002.7,535.4 1003.4,535.2 1004.0,535.0 1004.7,535.0 1005.4,534.6 1006.0,535.3 1006.7,535.2 1007.4,534.7 1008.1,535.4 1008.7,535.5 1009.4,535.4 1010.1,535.4 1010.7,535.3 1011.4,535.3 1012.1,535.5 1012.8,535.7 1013.4,535.4 1014.1,535.7 1014.8,535.6 1015.4,535.3 1016.1,535.4 1016.8,535.7 1017.4,535.8 1018.1,535.7 1018.8,535.9 1019.5,535.3 1020.1,535.3 1020.8,535.4 1021.5,535.4 1022.1,535.7 1022.8,535.5 1023.5,535.6 1024.1,535.6 1024.8,535.7 1025.5,535.9 1026.2,535.6 1026.8,535.5 1027.5,536.0 1028.2,535.7 1029.3,535.7" fill="none" stroke="#1c1c1c" stroke-opacity="0.78" stroke-width="0.9" stroke-linejoin="round" marker-start="url(#mk)" marker-mid="url(#mk)" marker-end="url(#mk)"/>
<polyline points="311.6,482.6 311.6,279.0 312.3,279.0 312.9,279.0 313.6,279.0 314.3,279.0 315.0,279.0 315.6,279.0 316.3,279.0 317.0,279.0 317.6,279.0 318.3,279.0 319.0,279.0 319.6,279.0 320.3,279.0 321.0,279.0 321.7,279.0 322.2,474.7" fill="none" stroke="#1c1c1c" stroke-opacity="0.78" stroke-width="0.9" stroke-linejoin="round" marker-mid="url(#mk)"/>
</g>
<rect x="291.5" y="134.3" width="36.0" height="436.2" fill="#4472c4" fill-opacity="0.245" stroke="#172c51" stroke-width="1.15"/>
<rect x="566.5" y="134.3" width="37.1" height="436.2" fill="#4472c4" fill-opacity="0.245" stroke="#172c51" stroke-width="1.15"/>
<rect x="780.4" y="134.3" width="29.2" height="436.2" fill="#4472c4" fill-opacity="0.245" stroke="#172c51" stroke-width="1.15"/>
<rect x="857.2" y="134.3" width="29.5" height="436.2" fill="#4472c4" fill-opacity="0.245" stroke="#172c51" stroke-width="1.15"/>
<rect x="194.5" y="183" width="96.5" height="5" fill="#ed7d31"/>
<rect x="328.0" y="183" width="238.0" height="5" fill="#ed7d31"/>
<rect x="604.1" y="183" width="175.9" height="5" fill="#ed7d31"/>
<rect x="805.4" y="183" width="51.3" height="5" fill="#ed7d31"/>
<rect x="887.2" y="183" width="143.3" height="5" fill="#ed7d31"/>
<text x="700.2" y="175" font-size="24" font-weight="700" fill="#ed7d31" stroke="#ed7d31" stroke-width="1" stroke-linejoin="round" text-anchor="middle" letter-spacing="-0.6">RTA</text>
<g filter="url(#tsh)" font-size="32.5" fill="#000" text-anchor="middle">
<text x="871.3" y="62.4">PTA</text>
<text x="872.0" y="101.7">(1 shut-in)</text>
</g>
<path d="M864.4,105.3 H879.7 V120.1 H886.7 L871.9,134 L857.2,120.1 H864.4 Z" fill="#4472c4" stroke="#2f528f" stroke-width="0.8" stroke-linejoin="miter"/>
<circle cx="255.4" cy="650.4" r="5.5" fill="#cfcfcf"/>
<text x="269.3" y="652.8" font-size="9.7" fill="#c9c9c9" textLength="65.4" lengthAdjust="spacingAndGlyphs">Gas rate (raw)</text>
<circle cx="348.4" cy="650.4" r="5.5" fill="#cfcfcf"/>
<text x="363.0" y="652.8" font-size="9.7" fill="#c9c9c9" textLength="100.0" lengthAdjust="spacingAndGlyphs">Tubing pressure (raw)</text>
<circle cx="477.0" cy="650.4" r="5.5" fill="#cfcfcf"/>
<text x="491.3" y="652.8" font-size="9.7" fill="#c9c9c9" textLength="100.2" lengthAdjust="spacingAndGlyphs">Casing pressure (raw)</text>
<circle cx="609.8" cy="650.4" r="4.3" fill="#fff" stroke="#c5203e" stroke-width="1.95"/>
<text x="623.7" y="652.8" font-size="9.7" fill="#3a3a3a" textLength="73.0" lengthAdjust="spacingAndGlyphs">Gas rate (clean)</text>
<circle cx="714.7" cy="650.4" r="4.3" fill="#fff" stroke="#1c1c1c" stroke-width="1.95"/>
<text x="729.2" y="652.8" font-size="9.7" fill="#3a3a3a" textLength="108.0" lengthAdjust="spacingAndGlyphs">Tubing pressure (clean)</text>
<circle cx="855.2" cy="650.4" r="4.3" fill="#fff" stroke="#1c1c1c" stroke-width="1.95"/>
<text x="869.4" y="652.8" font-size="9.7" fill="#3a3a3a" textLength="107.9" lengthAdjust="spacingAndGlyphs">Casing pressure (clean)</text>
</g>
</svg>
</body></html>
